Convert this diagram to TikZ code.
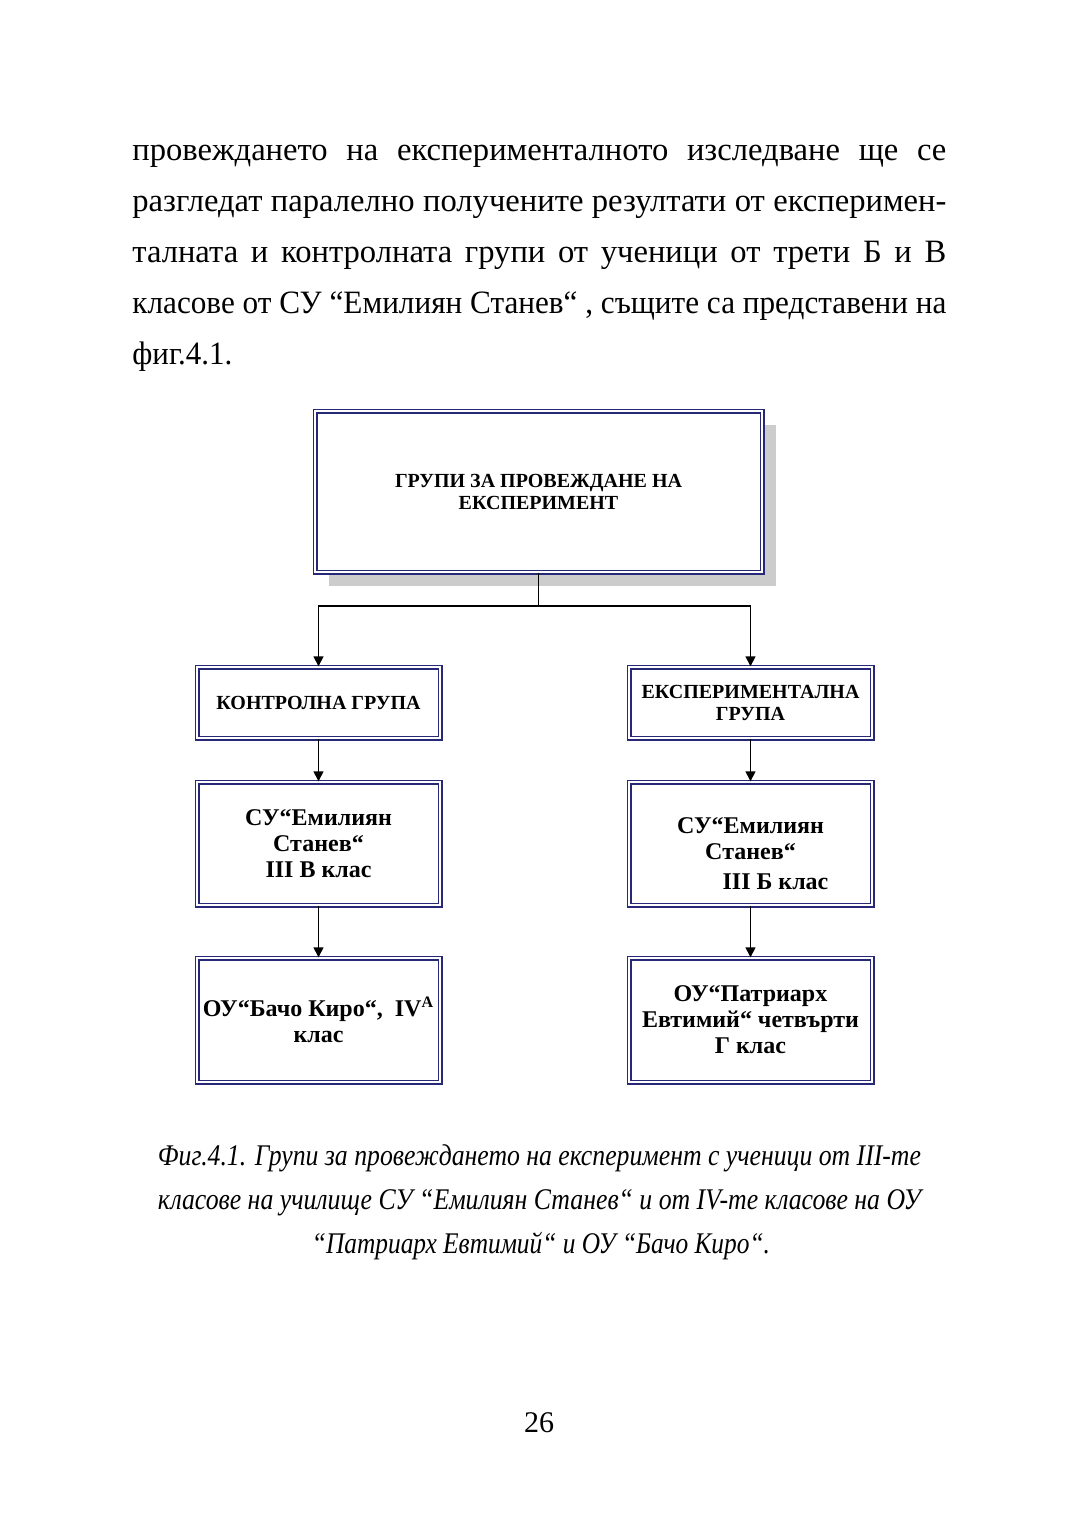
\documentclass[tikz,border=0pt]{standalone}
\usepackage{fontspec}
\setmainfont{Liberation Serif}
\usetikzlibrary{arrows.meta,shadows}
\definecolor{boxblue}{RGB}{40,40,120}
\tikzset{
  grpbox/.style={draw=boxblue, double=white, double distance=1.1pt, line width=0.7pt,
    fill=white, align=center, inner sep=0pt, minimum width=121.5pt,
    font=\bfseries\fontsize{10pt}{11pt}\selectfont},
  schoolbox/.style={grpbox, font=\bfseries\fontsize{12pt}{13pt}\selectfont},
  conn/.style={line width=0.7pt, -{Triangle[length=5pt,width=5pt]}},
  bodyline/.style={anchor=base west, inner sep=0pt, font=\fontsize{16.3pt}{25pt}\selectfont},
  capline/.style={anchor=base, inner sep=0pt, font=\itshape\fontsize{15pt}{22pt}\selectfont}
}
\begin{document}
\begin{tikzpicture}[x=0.5pt,y=-0.5pt]
  \useasboundingbox (0,0) rectangle (1080,1532);
  % text above the figure
  \node[bodyline] (p1) at (132,160) {\makebox[407pt][s]{провеждането на експерименталното изследване ще се}};
  \node[bodyline] (p2) at (132,211) {\makebox[407pt][s]{разгледат паралелно получените резултати от експеримен-}};
  \node[bodyline] (p3) at (132,262) {\makebox[407pt][s]{талната и контролната групи от ученици от трети Б и В}};
  \node[bodyline] (p4) at (132,313) {\resizebox{407pt}{\height}{класове от СУ “Емилиян Станев“ , същите са представени на}};
  \node[bodyline] (p5) at (132,364) {\resizebox{50pt}{\height}{фиг.4.1.}};
  % the figure
  \node[grpbox, minimum width=223.5pt, minimum height=80.5pt,
    general shadow={fill=black!20, shadow xshift=7pt, shadow yshift=-7pt}]
    (groups) at (538.5,491.5) {ГРУПИ ЗА ПРОВЕЖДАНЕ НА\\ЕКСПЕРИМЕНТ};
  \node[grpbox, minimum height=35.5pt] (control) at (318.5,702.5) {КОНТРОЛНА ГРУПА};
  \node[grpbox, minimum height=35.5pt] (experim) at (750.5,702.5) {ЕКСПЕРИМЕНТАЛНА\\ГРУПА};
  \node[schoolbox, minimum height=61.5pt] (suv) at (318.5,843.5) {СУ“Емилиян\\Станев“\\III В клас};
  \node[schoolbox, minimum height=61.5pt] (sub) at (750.5,843.5) {\rule{0pt}{18pt}СУ“Емилиян\\Станев“\\[2pt]\hspace*{25pt}III Б клас};
  \node[schoolbox, minimum height=62pt] (bacho) at (318.5,1020) {ОУ“Бачо Киро“,\ \ IV\textsuperscript{A}\\клас};
  \node[schoolbox, minimum height=62pt] (patr) at (750.5,1020) {ОУ“Патриарх\\Евтимий“ четвърти\\Г клас};
  \coordinate (split) at (538.5,606);
  \draw[line width=0.7pt] (groups.south) -- (split);
  \draw[conn] (split) -| (control.north);
  \draw[conn] (split) -| (experim.north);
  \draw[conn] (control.south) -- (suv.north);
  \draw[conn] (experim.south) -- (sub.north);
  \draw[conn] (suv.south) -- (bacho.north);
  \draw[conn] (sub.south) -- (patr.north);
  % caption
  \node[capline] (cap1) at (539.5,1165) {\resizebox{381.5pt}{\height}{Фиг.4.1. Групи за провеждането на експеримент с ученици от III-те}};
  \node[capline] (cap2) at (539.5,1209) {\resizebox{381.5pt}{\height}{класове на училище СУ “Емилиян Станев“ и от IV-те класове на ОУ}};
  \node[capline] (cap3) at (541,1253) {\resizebox{229pt}{\height}{“Патриарх Евтимий“ и ОУ “Бачо Киро“.}};
  \node[anchor=base, inner sep=0pt, font=\fontsize{15pt}{18pt}\selectfont] (pagenum) at (539,1432) {26};
\end{tikzpicture}
\end{document}
